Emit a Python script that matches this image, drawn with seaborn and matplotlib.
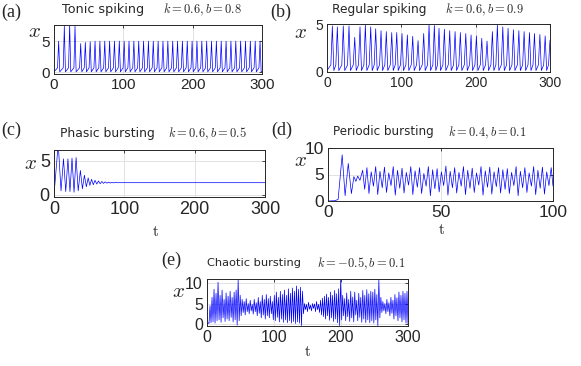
import numpy as np
import pandas as pd
import seaborn as sns
import matplotlib.pyplot as plt

# =====================================================================
# values (spike feet / peaks / troughs)
# =====================================================================

# (a) Tonic spiking, k=0.6, b=0.8
peak_t_a = [6.7, 14.9, 22.6, 30.3, 38.5, 45.2, 52.2, 59.2, 66.2, 73.2, 80.2, 87.2,
            94.2, 101.2, 108.2, 115.2, 122.2, 129.2, 136.2, 143.2, 150.2, 157.2,
            164.2, 171.2, 178.2, 185.2, 192.2, 199.2, 206.2, 213.2, 220.2, 227.2,
            234.2, 241.2, 248.2, 255.2, 262.2, 269.2, 276.2, 283.2, 290.2, 297.2]
peak_x_a = [5.0, 7.4, 7.7, 7.4, 4.6, 4.8, 4.9, 5.0, 5.0, 5.0, 5.0, 5.0,
            5.0, 5.0, 5.0, 5.0, 5.0, 5.0, 5.0, 5.0, 5.0, 5.0,
            5.0, 5.0, 5.0, 5.0, 5.0, 5.0, 5.0, 5.0, 5.0, 5.0,
            5.0, 5.0, 5.0, 5.0, 5.0, 5.0, 5.0, 5.0, 5.0, 5.0]
# where each spike leaves the baseline
foot_t_a = [5.1, 13.3, 21.0, 28.7, 36.9, 43.6, 50.6, 57.6, 64.6, 71.6, 78.6, 85.6,
            92.6, 99.6, 106.6, 113.6, 120.6, 127.6, 134.6, 141.6, 148.6, 155.6,
            162.6, 169.6, 176.6, 183.6, 190.6, 197.6, 204.6, 211.6, 218.6, 225.6,
            232.6, 239.6, 246.6, 253.6, 260.6, 267.6, 274.6, 281.6, 288.6, 295.6]
foot_level_a = 0.7
trough_t_a = [0, 8.3, 16.5, 24.2, 31.9, 40.1, 46.8, 53.8, 60.8, 67.8, 74.8, 81.8,
              88.8, 95.8, 102.8, 109.8, 116.8, 123.8, 130.8, 137.8, 144.8, 151.8,
              158.8, 165.8, 172.8, 179.8, 186.8, 193.8, 200.8, 207.8, 214.8, 221.8,
              228.8, 235.8, 242.8, 249.8, 256.8, 263.8, 270.8, 277.8, 284.8, 291.8,
              298.8, 300]
trough_level_a = 0.05

# (b) Regular spiking, k=0.6, b=0.9
peak_t_b = [7.2, 13.9, 21.9, 29.6, 37.3, 44.4, 51.6, 58.8, 65.5, 72.7, 79.8, 87.1,
            93.8, 100.9, 108.1, 115.3, 122.5, 130.1, 137.3, 144.4, 150.7, 157.9,
            165.1, 172.3, 179.4, 186.7, 193.8, 201.0, 208.2, 215.3, 222.5, 229.2,
            236.5, 243.6, 250.8, 258.1, 265.2, 272.4, 279.1, 286.4, 293.5, 300.0]
peak_x_b = [4.8, 4.7, 4.8, 4.8, 3.6, 4.7, 4.9, 4.7, 4.5, 4.3, 4.2, 4.1,
            4.1, 4.0, 3.85, 3.7, 3.25, 4.0, 4.9, 4.85, 4.55, 4.45,
            4.3, 4.2, 4.1, 4.0, 3.85, 3.75, 3.5, 3.2, 4.2, 4.9,
            4.7, 4.55, 4.4, 4.3, 4.2, 4.1, 4.0, 3.9, 3.75, 3.3]
foot_t_b = [5.2, 11.9, 19.9, 27.6, 35.3, 42.4, 49.6, 56.8, 63.5, 70.7, 77.8, 85.1,
            91.8, 98.9, 106.1, 113.3, 120.5, 128.1, 135.3, 142.4, 148.7, 155.9,
            163.1, 170.3, 177.4, 184.7, 191.8, 199.0, 206.2, 213.3, 220.5, 227.2,
            234.5, 241.6, 248.8, 256.1, 263.2, 270.4, 277.1, 284.4, 291.5, 298.0]
foot_level_b = 0.7
trough_t_b = [0, 9.2, 15.9, 23.9, 31.6, 39.3, 46.4, 53.6, 60.8, 67.5, 74.7, 81.8,
              89.1, 95.8, 102.9, 110.1, 117.3, 124.5, 132.1, 139.3, 146.4, 152.7,
              159.9, 167.1, 174.3, 181.4, 188.7, 195.8, 203.0, 210.2, 217.3, 224.5,
              231.2, 238.5, 245.6, 252.8, 260.1, 267.2, 274.4, 281.1, 288.4, 295.5]
trough_level_b = 0.1

# (c) Phasic bursting, k=0.6, b=0.5
peak_t_c = [6.0, 13.5, 19.8, 25.6, 31.4, 37.5, 43.2, 48.6, 53.4, 58.3, 63.2, 68.0,
            72.8, 77.6, 82.4, 87.2]
peak_x_c = [7.5, 5.3, 5.3, 5.4, 5.5, 3.6, 2.9, 2.5, 2.3, 2.15, 2.05, 1.97,
            1.92, 1.88, 1.85, 1.83]
trough_t_c = [0, 10.0, 16.7, 22.7, 28.5, 34.4, 40.4, 46.0, 51.0, 55.9, 60.8, 65.6,
              70.4, 75.2, 80.0, 84.8, 90.0, 300.0]
trough_x_c = [0, 0.6, 0.5, 0.5, 0.4, 0.6, 0.9, 1.2, 1.4, 1.5, 1.6, 1.65,
              1.7, 1.73, 1.75, 1.77, 1.8, 1.8]

# (d) Periodic bursting, k=0.4, b=0.1
peak_t_d = [6.3, 9.0, 11.5, 13.2,
            15.4, 17.3, 19.2, 21.2, 23.1, 25.1, 27.0, 29.0, 30.9, 32.9, 34.8, 36.8,
            38.7, 40.7, 42.6, 44.6, 46.5, 48.5, 50.4, 52.4, 54.3, 56.3, 58.2, 60.2,
            62.1, 64.1, 66.0, 68.0, 69.9, 71.9, 73.8, 75.8, 77.7, 79.7, 81.6, 83.6,
            85.5, 87.5, 89.4, 91.4, 93.3, 95.3, 97.2, 99.2]
peak_x_d = [8.7, 7.1, 4.6, 4.7,
            5.8, 6.3, 5.5, 6.5, 5.6, 6.4, 5.3, 6.5, 5.8, 6.2, 5.4, 6.5,
            5.7, 6.3, 5.2, 6.5, 5.9, 6.1, 5.5, 6.6, 5.6, 6.3, 5.4, 6.5,
            5.8, 6.2, 5.3, 6.5, 5.7, 6.4, 5.5, 6.3, 5.9, 6.1, 5.4, 6.5,
            5.6, 6.3, 5.3, 6.5, 5.8, 6.4, 5.5, 6.3]
trough_t_d = [0, 3.0, 4.5, 7.6, 10.4, 12.4, 14.2,
              16.3, 18.2, 20.2, 22.1, 24.1, 26.0, 28.0, 29.9, 31.9, 33.8, 35.8, 37.7,
              39.7, 41.6, 43.6, 45.5, 47.5, 49.4, 51.4, 53.3, 55.3, 57.2, 59.2, 61.1,
              63.1, 65.0, 67.0, 68.9, 70.9, 72.8, 74.8, 76.7, 78.7, 80.6, 82.6, 84.5,
              86.5, 88.4, 90.4, 92.3, 94.3, 96.2, 98.2, 100.0]
trough_x_d = [0, 0.05, 0.3, 1.0, 1.4, 3.7, 3.9,
              2.2, 1.4, 2.8, 1.2, 2.5, 1.6, 2.9, 1.1, 2.4, 1.5, 3.0, 1.2,
              2.6, 1.4, 2.8, 1.0, 2.3, 1.7, 2.9, 1.1, 2.5, 1.5, 2.8, 1.2,
              2.4, 1.6, 3.0, 1.1, 2.6, 1.3, 2.7, 1.5, 2.2, 1.4, 2.9, 1.0,
              2.5, 1.6, 2.8, 1.2, 2.4, 1.3, 2.9, 2.8]

# (e) Chaotic bursting, k=-0.5, b=0.1  (samples every 1.5 time units)
x_e = [0.0, 0.3, 0.1, 4.5, 0.3, 6.5, 0.5, 8.5, 0.2, 7.5, 0.8, 10.2, 1.0, 7.0,
       0.4, 8.3, 1.5, 6.0, 0.6, 7.6, 1.2, 6.8, 0.8, 8.0, 1.6, 6.5, 0.5, 7.8,
       1.0, 8.3, -0.3, 10.8, 0.8, 7.0, 2.0, 6.0, 2.8, 5.5, 2.2, 6.2, 3.0, 5.0,
       2.5, 5.8, 3.2, 4.8, 2.4, 6.0, 3.0, 5.2, 2.0, 6.5, 2.6, 5.5, 1.5, 7.0,
       2.2, 6.0, 1.2, 7.2, 2.0, 6.2, 1.5, 6.8, 2.5, 5.5, 1.0, 7.0, 0.8, 7.8,
       1.6, 6.5, 0.5, 8.0, 1.2, 7.2, 0.4, 8.3, 1.0, 7.0, 0.3, 8.6, 0.8, 7.5,
       0.2, 8.8, 0.6, 8.0, 0.1, 9.3, 0.5, 8.5, 0.2, 9.0, -0.4, 8.0, 2.5, 5.0,
       3.5, 4.8, 3.0, 5.3, 3.6, 4.6, 3.2, 5.0, 3.8, 4.9, 3.0, 5.5, 3.5, 4.8,
       2.8, 5.8, 2.2, 6.3, 1.8, 6.8, 1.2, 7.3, 2.0, 6.5, 0.9, 7.8, 1.5, 7.0,
       0.6, 8.2, 1.2, 7.4, 0.3, 8.6, -0.4, 10.8, 1.0, 7.0, 2.0, 6.2, 0.8, 7.6,
       1.8, 6.0, 0.6, 8.0, 1.5, 6.6, 0.5, 7.8, 2.2, 5.8, 0.8, 7.5, 1.6, 6.5,
       0.4, 8.2, 1.2, 7.0, 0.3, 8.4, 1.0, 7.4, 0.3, 8.0, 0.8, 7.8, 0.2, 8.5,
       1.0, 7.2, -0.4, 10.8, 1.5, 6.5, 2.8, 5.5, 3.2, 5.0, 2.5, 6.0, 3.0, 5.2,
       2.0, 6.5, 2.6, 5.8, 1.2, 7.2, 2.0, 6.4, 0.8, 7.8, 1.5, 7.0, 0.5, 8.0,
       1.0, 7.5, 0.2, 8.0, 0.0]
t_e = np.linspace(0, 300, len(x_e))


# =====================================================================
# helpers
# =====================================================================
def trace(*parts):
    # parts: (times, values) pairs -> one time-ordered trace
    t = []
    x = []
    for pt, px in parts:
        t += list(pt)
        x += list(px)
    df = pd.DataFrame({'t': t, 'x': x})
    return df.sort_values('t', kind='stable').reset_index(drop=True)


df_a = trace((peak_t_a, peak_x_a),
             (foot_t_a, np.full(len(foot_t_a), foot_level_a)),
             (trough_t_a, np.full(len(trough_t_a), trough_level_a)))
df_b = trace((peak_t_b, peak_x_b),
             (foot_t_b, np.full(len(foot_t_b), foot_level_b)),
             (trough_t_b, np.full(len(trough_t_b), trough_level_b)))
df_c = trace((peak_t_c, peak_x_c), (trough_t_c, trough_x_c))
df_d = trace((peak_t_d, peak_x_d), (trough_t_d, trough_x_d))
df_e = pd.DataFrame({'t': t_e, 'x': x_e})

sns.set_style('white')
plt.rcParams['font.family'] = ['DejaVu Sans']
plt.rcParams['mathtext.fontset'] = 'cm'

W, H = 581, 366
fig = plt.figure(figsize=(W / 100, H / 100), dpi=100)


def rect(left, top, right, bottom):
    # pixel box -> figure fraction
    return [left / W, 1 - bottom / H, (right - left) / W, (bottom - top) / H]


def panel(box, df, xlim, ylim, xticks, yticks, tsize):
    ax = fig.add_axes(rect(*box))
    sns.lineplot(data=df, x='t', y='x', ax=ax, color='#0000ff', lw=0.5,
                 estimator=None, sort=False)
    ax.set_xlim(xlim)
    ax.set_ylim(ylim)
    ax.set_xticks(xticks)
    ax.set_yticks(yticks)
    ax.set_xlabel('')
    ax.set_ylabel('')
    ax.grid(True, color='#e2e2e2', lw=0.7)
    ax.set_axisbelow(True)
    ax.tick_params(direction='in', length=2.5, width=0.6, top=True, right=True,
                   labelsize=tsize, colors='#262626', pad=3)
    for lab in ax.get_xticklabels() + ax.get_yticklabels():
        lab.set_fontfamily('Liberation Sans')
    for s in ax.spines.values():
        s.set_color('#262626')
        s.set_linewidth(0.7)
    return ax


def label(x, y, s, **kw):
    fig.text(x / W, 1 - y / H, s, **kw)


panel((54, 25, 262, 74), df_a, (0, 300), (-0.3, 7.6), [0, 100, 200, 300], [0, 5], 11)
panel((327, 24, 550, 72), df_b, (0, 300), (-0.05, 5.0), [0, 100, 200, 300], [0, 5], 10)
panel((54, 150, 265, 197), df_c, (0, 300), (-0.3, 6.6), [0, 100, 200, 300], [0, 5], 13)
panel((328, 148, 553, 201), df_d, (0, 100), (0, 10), [0, 50, 100], [0, 5, 10], 12.5)
panel((207, 279, 408, 326), df_e, (0, 300), (-0.5, 11.0), [0, 100, 200, 300], [0, 5, 10], 11.5)

# panel letters
for x, y, s in [(1, 12, '(a)'), (270, 12, '(b)'), (1, 130, '(c)'),
                (271, 130, '(d)'), (161, 260, '(e)')]:
    label(x, y, s, family='Liberation Serif', fontsize=13, va='center', ha='left')

# titles
titles = [(62, 9, 'Tonic spiking', 9.2, 163, 10, r'$k=0.6, b=0.8$'),
          (332, 9, 'Regular spiking', 8.8, 445, 10, r'$k=0.6, b=0.9$'),
          (60, 133, 'Phasic bursting', 8.9, 168, 134, r'$k=0.6, b=0.5$'),
          (333, 132, 'Periodic bursting', 8.6, 448, 133, r'$k=0.4, b=0.1$'),
          (207, 263, 'Chaotic bursting', 8.2, 317, 264, r'$k=-0.5, b=0.1$')]
for x1, y1, s1, fs, x2, y2, s2 in titles:
    label(x1, y1, s1, fontsize=fs, va='center', ha='left')
    label(x2, y2, s2, fontsize=9, va='center', ha='left')

# y labels
for x, y in [(34, 31), (301, 32), (31, 163), (300, 160), (179, 291)]:
    label(x, y, r'$x$', fontsize=15, va='center', ha='center')

# x labels
for x, y in [(155, 232), (441, 230), (307, 352)]:
    label(x, y, r'$\mathrm{t}$', fontsize=11, va='center', ha='center')

fig.savefig('out.png', dpi=100)
